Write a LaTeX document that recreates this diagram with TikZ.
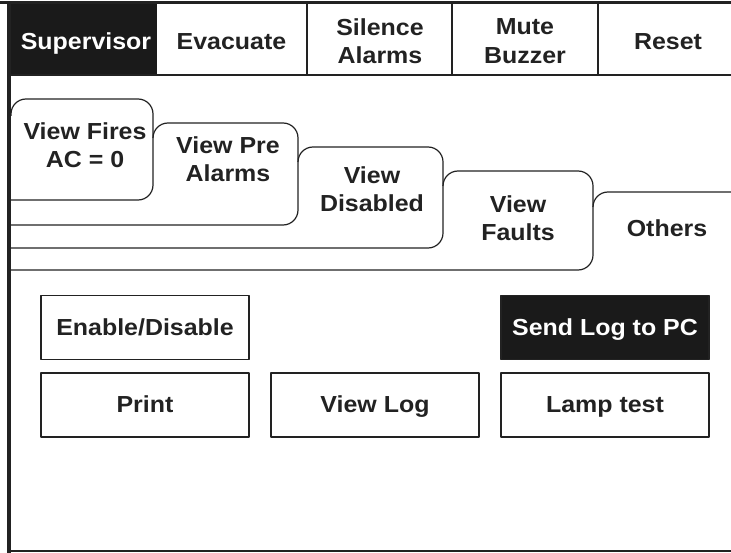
\documentclass[tikz,border=0pt]{standalone}
\usepackage{fontspec}
\setmainfont{Liberation Sans}[FakeStretch=1.075]
\definecolor{ink}{HTML}{222222}
\definecolor{dark}{HTML}{1A1A1A}
\begin{document}
\begin{tikzpicture}[x=1pt,y=-1pt,line join=round,
  ln/.style={draw=ink,line width=1.2pt},
  lbl/.style={font=\fontsize{23.2}{28.5}\selectfont\bfseries,text=ink,align=center,inner sep=0pt},
  one/.style={text height=16.6pt,text depth=1.4pt},
  btn/.style={ln,one,minimum width=208pt,minimum height=64pt,inner sep=0pt,font=\fontsize{23.2}{28.5}\selectfont\bfseries,text=ink},
  btnon/.style={btn,fill=dark,text=white},
  tabpath/.style={ln,rounded corners=15pt}]
\useasboundingbox (0,0) rectangle (731,553);
\clip (0,0) rectangle (731,553);
% header row
\fill[dark] (7,2) rectangle (157,75);
\draw[ink,line width=3pt] (0,3) -- (731,3);
\draw[ln] (9,75) -- (731,75);
\draw[ln] (307,3) -- (307,75);
\draw[ln] (452,3) -- (452,75);
\draw[ln] (598,3) -- (598,75);
\node[lbl,one,text=white] (sup) at (86,41.5) {Supervisor};
\node[lbl,one] (evac) at (231.5,41.5) {Evacuate};
\node[lbl] (sil) at (380,41) {Silence\\Alarms};
\node[lbl] (mute) at (525,41) {Mute\\Buzzer};
\node[lbl,one] (reset) at (668,41.5) {Reset};
% folder tabs
\draw[tabpath] (593,207) -- (593,192) -- (760,192) -- (760,300);
\draw[tabpath] (443,186) -- (443,171) -- (593,171) -- (593,270) -- (11,270);
\draw[tabpath] (298,162) -- (298,147) -- (443,147) -- (443,248) -- (11,248);
\draw[tabpath] (153,138) -- (153,123) -- (298,123) -- (298,225) -- (11,225);
\draw[tabpath] (11,116) -- (11,99) -- (153,99) -- (153,200) -- (11,200);
\node[lbl] (fires) at (85,145) {View Fires\\AC = 0};
\node[lbl] (pre) at (228,159) {View Pre\\Alarms};
\node[lbl] (dis) at (372,189) {View\\Disabled};
\node[lbl] (faults) at (518,218) {View\\Faults};
\node[lbl,one] (others) at (667,229) {Others};
% buttons
\node[btn] (enable) at (145,327.5) {Enable/Disable};
\node[btnon] (send) at (605,327.5) {Send Log to PC};
\node[btn] (print) at (145,405) {Print};
\node[btn] (viewlog) at (375,405) {View Log};
\node[btn] (lamp) at (605,405) {Lamp test};
% frame
\draw[ink,line width=4pt] (9,2) -- (9,553);
\draw[ink,line width=2pt] (8,551) -- (731,551);
\end{tikzpicture}
\end{document}
